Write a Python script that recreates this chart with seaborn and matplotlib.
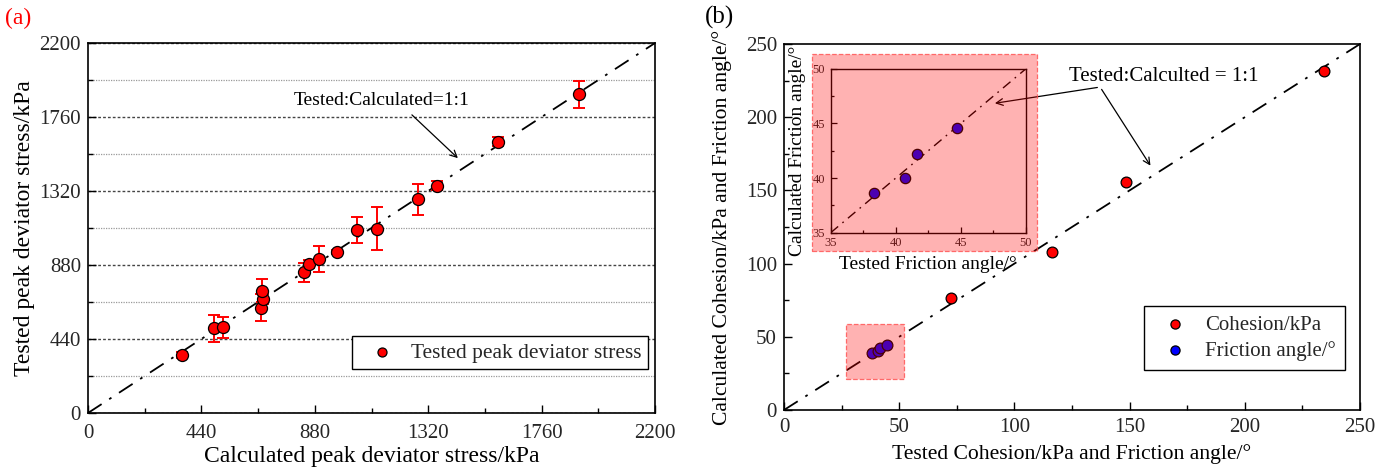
import matplotlib
matplotlib.use("Agg")
import matplotlib.pyplot as plt
from matplotlib.patches import Rectangle
from matplotlib.ticker import MultipleLocator
import pandas as pd
import seaborn as sns

# Peak deviator stress: calculated vs tested (kPa), with scatter of tests
calc_stress = [364, 490, 522, 671, 680, 676, 839, 859, 897, 965, 1045, 1122, 1279, 1353, 1592, 1906]
tested_stress = [345, 503, 509, 626, 676, 727, 836, 886, 916, 959, 1088, 1096, 1270, 1352, 1613, 1895]
stress_err = [15, 79, 63, 79, 30, 68, 58, 25, 78, 12, 79, 128, 92, 29, 26, 79]

# Strength parameters: tested vs calculated
coh_tested = [72.3, 116.2, 148.4, 234.5]
coh_calc = [76.3, 108.1, 155.9, 231.8]
fric_tested = [38.3, 40.7, 41.6, 44.7]
fric_calc = [38.6, 40.0, 42.2, 44.6]

stress_ticks = [0, 440, 880, 1320, 1760, 2200]

sns.set_theme(style="white")
plt.rcParams['font.family'] = ['Liberation Serif', 'DejaVu Serif']
plt.rcParams['axes.linewidth'] = 1.2
plt.rcParams['xtick.direction'] = 'in'
plt.rcParams['ytick.direction'] = 'in'

W, H = 1394, 470
fig = plt.figure(figsize=(W / 100, H / 100), dpi=100)


def px_axes(left, top, right, bottom):
    return fig.add_axes([left / W, (H - bottom) / H, (right - left) / W, (bottom - top) / H])


dashdot = (0, (9, 5, 1.5, 5))

# ---------------- (a) ----------------
ax1 = px_axes(88, 43, 655, 413)
stress_df = pd.DataFrame({"calc": calc_stress, "tested": tested_stress})
ax1.plot([0, 2200], [0, 2200], color='black', lw=1.3, ls=dashdot, zorder=2)
ax1.errorbar(calc_stress, tested_stress, yerr=stress_err, fmt='none', ecolor='red',
             elinewidth=1.4, capsize=4, capthick=1.4, zorder=3)
sns.scatterplot(data=stress_df, x="calc", y="tested", ax=ax1, color='red', edgecolor='black',
                s=75, linewidth=0.9, zorder=4, label='Tested peak deviator stress')
ax1.set_xlim(0, 2200)
ax1.set_ylim(0, 2200)
ax1.set_xticks(stress_ticks)
ax1.set_yticks(stress_ticks)
ax1.xaxis.set_minor_locator(MultipleLocator(220))
ax1.yaxis.set_minor_locator(MultipleLocator(220))
ax1.tick_params(which='major', length=6, width=1, labelsize=15, color='black',
                top=False, right=False, bottom=True, left=True)
ax1.tick_params(axis='x', which='major', pad=8)
ax1.tick_params(axis='y', which='major', pad=5)
ax1.tick_params(which='minor', length=3.5, width=1, color='black',
                top=False, right=False, bottom=True, left=True)
ax1.yaxis.grid(True, which='major', ls=(0, (2, 1.5)), color='#444444', lw=1.0)
ax1.yaxis.grid(True, which='minor', ls=(0, (1, 1)), color='#9a9a9a', lw=0.9)
ax1.xaxis.grid(False, which='both')
for sp in ax1.spines.values():
    sp.set_color('black')
    sp.set_linewidth(1.2)
ax1.set_xlabel('Calculated peak deviator stress/kPa', fontsize=17, labelpad=2, color='black')
ax1.set_ylabel('Tested peak deviator stress/kPa', fontsize=17, labelpad=3, color='black')
ax1.text(1141, 1861, 'Tested:Calculated=1:1', fontsize=14, ha='center', va='center', color='black')
ax1.annotate('', xy=(1443, 1504), xytext=(1249, 1784),
             arrowprops=dict(arrowstyle='->', color='black', lw=0.9, mutation_scale=12))
leg1 = ax1.legend(loc='lower right', bbox_to_anchor=(0.988, 0.119), borderaxespad=0,
                  fontsize=15.4, frameon=True, fancybox=False, edgecolor='black',
                  handlelength=2.2, handletextpad=0.25, borderpad=0.3, markerscale=0.75)
leg1.get_frame().set_linewidth(1.0)
leg1.get_frame().set_facecolor('white')
leg1.get_frame().set_alpha(1)

fig.text(5 / W, 1 - 18 / H, '(a)', color='red', fontsize=17, va='center', ha='left')

# ---------------- (b) ----------------
ax2 = px_axes(784, 44, 1360, 410)
ax2.plot([0, 250], [0, 250], color='black', lw=1.3, ls=dashdot, zorder=2)
coh_df = pd.DataFrame({"tested": coh_tested, "calc": coh_calc})
fric_df = pd.DataFrame({"tested": fric_tested, "calc": fric_calc})
sns.scatterplot(data=coh_df, x="tested", y="calc", ax=ax2, color='red', edgecolor='black',
                s=60, linewidth=0.9, zorder=4, label='Cohesion/kPa')
sns.scatterplot(data=fric_df, x="tested", y="calc", ax=ax2, color='blue', edgecolor='black',
                s=60, linewidth=0.9, zorder=4, label='Friction angle/°')
ax2.set_xlim(0, 250)
ax2.set_ylim(0, 250)
ax2.xaxis.set_major_locator(MultipleLocator(50))
ax2.yaxis.set_major_locator(MultipleLocator(50))
ax2.xaxis.set_minor_locator(MultipleLocator(25))
ax2.yaxis.set_minor_locator(MultipleLocator(25))
ax2.tick_params(which='major', length=6, width=1, labelsize=15, color='black',
                top=False, right=False, bottom=True, left=True)
ax2.tick_params(axis='x', which='major', pad=6)
ax2.tick_params(axis='y', which='major', pad=5)
ax2.tick_params(which='minor', length=3.5, width=1, color='black',
                top=False, right=False, bottom=True, left=True)
ax2.grid(False)
for sp in ax2.spines.values():
    sp.set_color('black')
    sp.set_linewidth(1.2)
ax2.set_xlabel('Tested Cohesion/kPa and Friction angle/°', fontsize=15.6, labelpad=5, color='black')
ax2.set_ylabel('Calculated Cohesion/kPa and Friction angle/°', fontsize=15.6, labelpad=10, color='black')
ax2.add_patch(Rectangle((26.9, 21.2), 25.2, 37.3, facecolor=(1, 0, 0, 0.3),
                        edgecolor=(1, 0.3, 0.3, 0.8), ls='--', lw=0.9, zorder=6))
leg2 = ax2.legend(loc='lower right', bbox_to_anchor=(0.974, 0.109), borderaxespad=0,
                  fontsize=15, frameon=True, fancybox=False, edgecolor='black',
                  handlelength=2.0, handletextpad=0.45, borderpad=0.45, labelspacing=0.3,
                  markerscale=0.85)
leg2.get_frame().set_linewidth(1.0)
leg2.get_frame().set_facecolor('white')
leg2.get_frame().set_alpha(1)

ax2.text(164.9, 228.1, 'Tested:Calculted = 1:1', fontsize=15, ha='center', va='center', color='black')
ax2.annotate('', xy=(159.7, 165.3), xytext=(137.2, 220.6),
             arrowprops=dict(arrowstyle='->', color='black', lw=0.9, mutation_scale=12))

fig.text(705 / W, 1 - 17 / H, '(b)', color='black', fontsize=18, va='center', ha='left')

# Inset: friction angle close-up
axin = px_axes(830.7, 68.7, 1026, 232.7)
axin.set_facecolor('white')
axin.plot([35, 50], [35, 50], color='black', lw=1.0, ls=(0, (7, 4, 1.2, 4)), zorder=2)
sns.scatterplot(data=fric_df, x="tested", y="calc", ax=axin, color='blue', edgecolor='black',
                s=55, linewidth=0.9, zorder=4, legend=False)
axin.set_xlim(35, 50)
axin.set_ylim(35, 50)
axin.xaxis.set_major_locator(MultipleLocator(5))
axin.yaxis.set_major_locator(MultipleLocator(5))
axin.xaxis.set_minor_locator(MultipleLocator(2.5))
axin.yaxis.set_minor_locator(MultipleLocator(2.5))
axin.tick_params(which='major', length=4, width=0.9, labelsize=9, color='black',
                 top=False, right=False, bottom=True, left=True)
axin.tick_params(axis='x', which='major', pad=3)
axin.tick_params(axis='y', which='major', pad=4)
axin.tick_params(which='minor', length=2.5, width=0.9, color='black',
                 top=False, right=False, bottom=True, left=True)
axin.grid(False)
for sp in axin.spines.values():
    sp.set_color('black')
    sp.set_linewidth(1.0)
axin.set_xlabel('Tested Friction angle/°', fontsize=14, labelpad=5, color='black')
axin.set_ylabel('Calculated Friction angle/°', fontsize=14, labelpad=5, color='black')
axin.annotate('', xy=(47.4, 46.8), xytext=(137.2, 220.6), textcoords=ax2.transData,
              arrowprops=dict(arrowstyle='->', color='black', lw=0.9, mutation_scale=12))

# Translucent highlight over the inset
fig.add_artist(Rectangle((812 / W, (H - 250.7) / H), 225 / W, 196.7 / H,
                         transform=fig.transFigure, facecolor=(1, 0, 0, 0.3),
                         edgecolor=(1, 0.3, 0.3, 0.8), ls='--', lw=0.9, zorder=10))

fig.savefig('out.png', dpi=100)
